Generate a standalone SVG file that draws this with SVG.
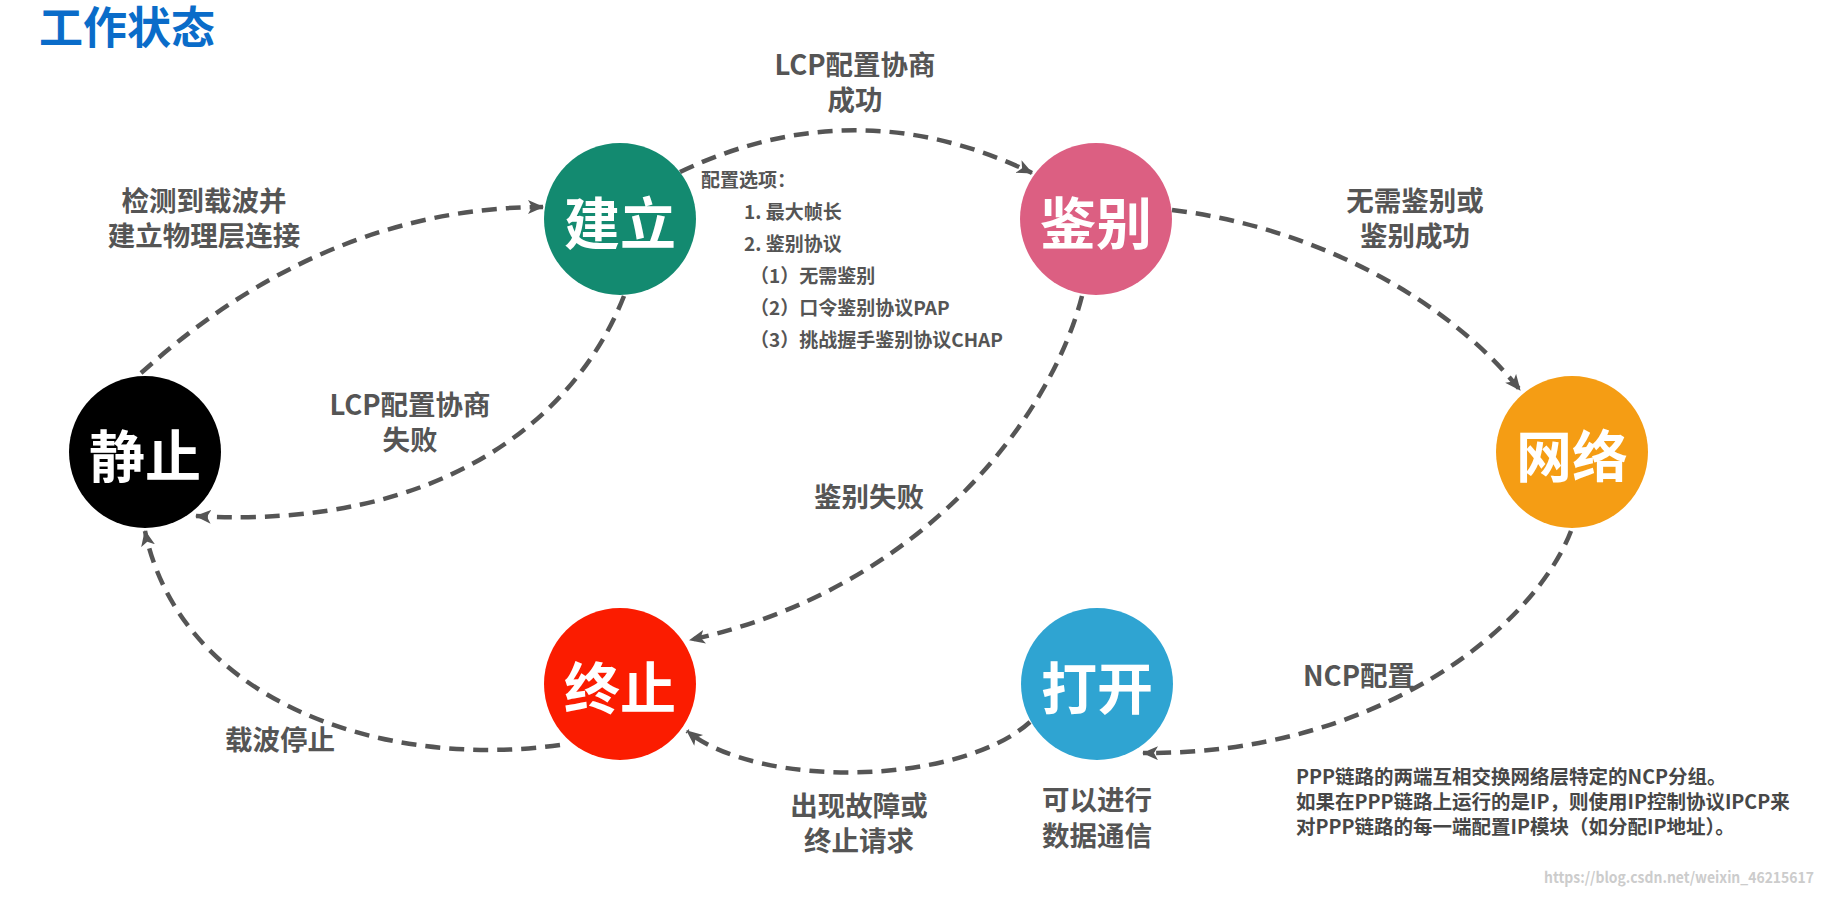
<svg xmlns="http://www.w3.org/2000/svg" width="1825" height="897" viewBox="0 0 1825 897">
  <defs>
    <marker id="arr" markerUnits="userSpaceOnUse" markerWidth="18" markerHeight="16" refX="15" refY="7" orient="auto">
      <path d="M0,0 L16,7 L0,14 L4,7 z" fill="#555555"/>
    </marker>
    <style>
      text { font-family: "Noto Sans CJK SC", "Noto Sans", sans-serif; font-weight: 700; }
      .node-label { fill: #ffffff; font-size: 56px; text-anchor: middle; }
      .lbl { fill: #555555; font-size: 27.5px; text-anchor: middle; }
      .opt { fill: #555555; font-size: 19px; }
      .para { fill: #474747; font-size: 19.5px; }
      .conn { fill: none; stroke: #555555; stroke-width: 4.5; stroke-dasharray: 15 9; marker-end: url(#arr); }
    </style>
  </defs>
  <rect width="1825" height="897" fill="#ffffff"/>

  <text x="39" y="44" font-size="44" fill="#0a6cc9">工作状态</text>

  <g id="connectors">
    <path class="conn" d="M141,373 C190,330 330,207 543,207"/>
    <path class="conn" d="M624,296 C575,420 440,530 196,516"/>
    <path class="conn" d="M680,172 Q856,88 1032,173"/>
    <path class="conn" d="M1172,210 C1300,225 1440,290 1520,390"/>
    <path class="conn" d="M1082,296 C1050,420 920,590 690,640"/>
    <path class="conn" d="M1571,531 C1535,625 1380,755 1143,753"/>
    <path class="conn" d="M1030,722 C960,785 760,790 687,731"/>
    <path class="conn" d="M560,745 C380,770 180,700 145,531"/>
  </g>

  <g id="node-jingzhi">
    <circle cx="145" cy="452" r="76" fill="#000000"/>
    <text class="node-label" x="145" y="477">静止</text>
  </g>
  <g id="node-jianli">
    <circle cx="620" cy="219" r="76" fill="#138a70"/>
    <text class="node-label" x="620" y="244">建立</text>
  </g>
  <g id="node-jianbie">
    <circle cx="1096" cy="219" r="76" fill="#dc5f82"/>
    <text class="node-label" x="1096" y="244">鉴别</text>
  </g>
  <g id="node-wangluo">
    <circle cx="1572" cy="452" r="76" fill="#f59d14"/>
    <text class="node-label" x="1572" y="477">网络</text>
  </g>
  <g id="node-zhongzhi">
    <circle cx="620" cy="684" r="76" fill="#fb1c00"/>
    <text class="node-label" x="620" y="709">终止</text>
  </g>
  <g id="node-dakai">
    <circle cx="1097" cy="684" r="76" fill="#2fa4d2"/>
    <text class="node-label" x="1097" y="709">打开</text>
  </g>

  <g id="labels">
    <text class="lbl" x="204" y="211">检测到载波并</text>
    <text class="lbl" x="204" y="246">建立物理层连接</text>
    <text class="lbl" x="410" y="415">LCP配置协商</text>
    <text class="lbl" x="410" y="450">失败</text>
    <text class="lbl" x="855" y="75">LCP配置协商</text>
    <text class="lbl" x="855" y="110">成功</text>
    <text class="lbl" x="1415" y="211">无需鉴别或</text>
    <text class="lbl" x="1415" y="246">鉴别成功</text>
    <text class="lbl" x="869" y="507">鉴别失败</text>
    <text class="lbl" x="1359" y="686">NCP配置</text>
    <text class="lbl" x="280" y="750">载波停止</text>
    <text class="lbl" x="859" y="816">出现故障或</text>
    <text class="lbl" x="859" y="851">终止请求</text>
    <text class="lbl" x="1097" y="810">可以进行</text>
    <text class="lbl" x="1097" y="846">数据通信</text>
  </g>

  <g id="options">
    <text class="opt" x="701" y="187" font-size="17.5">配置选项：</text>
    <text class="opt" x="744" y="219">1. 最大帧长</text>
    <text class="opt" x="744" y="251">2. 鉴别协议</text>
    <text class="opt" x="750" y="283">（1）无需鉴别</text>
    <text class="opt" x="750" y="315">（2）口令鉴别协议PAP</text>
    <text class="opt" x="750" y="347">（3）挑战握手鉴别协议CHAP</text>
  </g>

  <g id="note">
    <text class="para" x="1296" y="784">PPP链路的两端互相交换网络层特定的NCP分组。</text>
    <text class="para" x="1296" y="809">如果在PPP链路上运行的是IP，则使用IP控制协议IPCP来</text>
    <text class="para" x="1296" y="834">对PPP链路的每一端配置IP模块（如分配IP地址）。</text>
  </g>

  <text x="1544" y="883" font-family="Liberation Sans, Arial, sans-serif" font-weight="400" font-size="15" fill="#cccccc" textLength="270" lengthAdjust="spacingAndGlyphs">https://blog.csdn.net/weixin_46215617</text>
</svg>
